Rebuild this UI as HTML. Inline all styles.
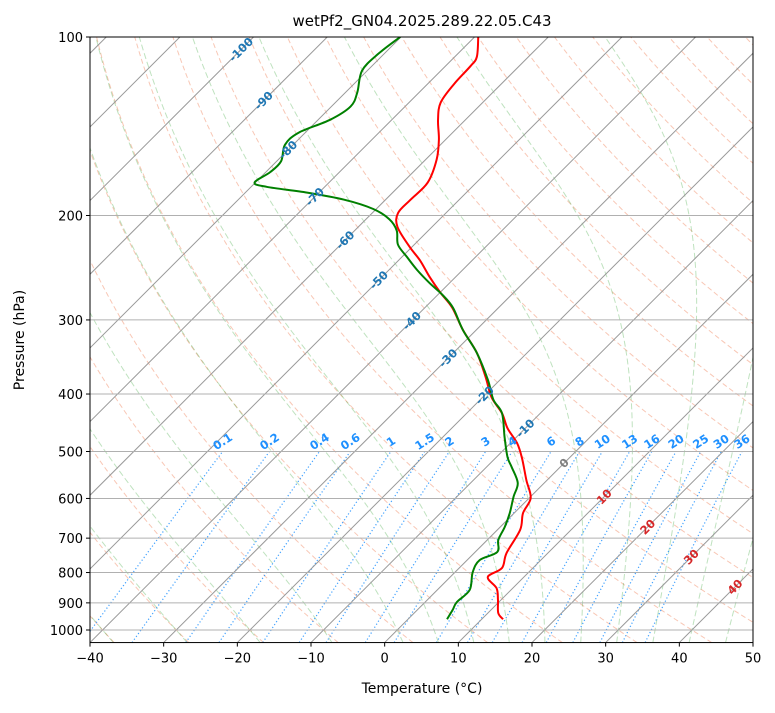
<!DOCTYPE html>
<html><head><meta charset="utf-8"><style>
html,body{margin:0;padding:0;background:#fff;}
svg text{font-family:"DejaVu Sans","Liberation Sans",sans-serif;}
</style></head><body>
<svg id="chart" width="775" height="708" xmlns="http://www.w3.org/2000/svg">
<defs><clipPath id="plotclip"><rect x="90" y="37" width="663" height="605.6"/></clipPath></defs>
<rect x="0" y="0" width="775" height="708" fill="#fff"/>
<text x="422" y="26" text-anchor="middle" font-size="15">wetPf2_GN04.2025.289.22.05.C43</text>
<g id="bg" clip-path="url(#plotclip)"></g>
<g id="fg" clip-path="url(#plotclip)"></g>
<g id="labels"></g>
<g id="axes"></g>
<text x="422" y="693" text-anchor="middle" font-size="14">Temperature (°C)</text>
<text x="0" y="0" text-anchor="middle" font-size="14" transform="translate(24,340) rotate(-90)">Pressure (hPa)</text>
</svg>
<script>
// ---- data ----
const tempPressure = [100,108,112,120,129,138,149,161,176,188,198,209,226,238,254,270,286,312,341,374,405,431,457,484,513,559,599,635,678,742,786,814,850,890,936,959];
const tempValues = [-69.5,-67.0,-66.6,-66.4,-65.7,-63.7,-60.9,-58.5,-56.6,-56.6,-56.5,-54.7,-50.3,-47.1,-43.5,-39.9,-36.3,-31.8,-26.8,-22.4,-18.8,-15.2,-12.4,-9.1,-6.4,-2.8,0.2,1.2,3.1,4.4,5.8,5.1,7.8,9.6,11.4,12.9];
const dewPressure = [100,107,114,124,131,138,145,152,162,169,176,179,183,188,195,203,212,224,235,247,260,272,286,312,341,379,409,431,473,511,531,565,596,635,670,705,739,762,799,856,897,925,959];
const dewValues = [-80.1,-80.8,-80.7,-78.4,-77.4,-78.4,-80.9,-81.1,-79.4,-79.4,-80.1,-77.8,-71.6,-65.7,-60.4,-56.8,-54.3,-52.2,-49.3,-46.2,-42.7,-39.4,-36.2,-31.8,-26.8,-21.6,-18.2,-15.2,-11.6,-8.5,-6.6,-3.6,-2.3,-0.6,0.6,1.5,3.0,1.7,2.4,4.4,4.3,4.8,5.3];
const xTicks = [-40,-30,-20,-10,0,10,20,30,40,50];
const yTicks = [100,200,300,400,500,600,700,800,900,1000];
const isotherms = [-150,-140,-130,-120,-110,-100,-90,-80,-70,-60,-50,-40,-30,-20,-10,0,10,20,30,40,50];
const dryThetas = [-50,-40,-30,-20,-10,0,10,20,30,40,50,60,70,80,90,100,110,120,130,140,150,160,170,180,190,200];
const moistT0 = [-50,-40,-30,-20,-10,0,5,10,15,20,25,30,35,40,45];
const mixRatios = [0.1,0.2,0.4,0.6,1,1.5,2,3,4,6,8,10,13,16,20,25,30,36];
const mixLabels = ["0.1","0.2","0.4","0.6","1","1.5","2","3","4","6","8","10","13","16","20","25","30","36"];
const isoLabelT = [-100,-90,-80,-70,-60,-50,-40,-30,-20,-10,0,10,20,30,40];
const isoLabelP = [105,128,155,186,220,257,301,348,402,457,523,596,670,753,846];

// ---- axes functions ----
const NS="http://www.w3.org/2000/svg";
const X0=90, X1=753, Y1000=630, DEC=593;
const PXT=(X1-X0)/90;
function yp(p){return Y1000-DEC*Math.log10(1000/p);}
const YB=yp(1050);
function xp(T,p){return X0+(T+40)*PXT+(YB-yp(p));}
function mk(tag,attrs,parent){const e=document.createElementNS(NS,tag);for(const k in attrs)e.setAttribute(k,attrs[k]);parent.appendChild(e);return e;}
const bg=document.getElementById('bg'), fg=document.getElementById('fg'), lab=document.getElementById('labels'), ax=document.getElementById('axes');
function pathFrom(ps,ts){let d='';for(let i=0;i<ps.length;i++){d+=(i?'L':'M')+xp(ts[i],ps[i]).toFixed(2)+','+yp(ps[i]).toFixed(2);}return d;}
function smoothPath(ps,ts){
  const pts=ps.map((p,i)=>[xp(ts[i],p),yp(p)]);
  let d='M'+pts[0][0].toFixed(2)+','+pts[0][1].toFixed(2);
  for(let i=0;i<pts.length-1;i++){
    const p0=pts[Math.max(0,i-1)],p1=pts[i],p2=pts[i+1],p3=pts[Math.min(pts.length-1,i+2)];
    const c1=[p1[0]+(p2[0]-p0[0])/6,p1[1]+(p2[1]-p0[1])/6];
    const c2=[p2[0]-(p3[0]-p1[0])/6,p2[1]-(p3[1]-p1[1])/6];
    d+='C'+c1[0].toFixed(2)+','+c1[1].toFixed(2)+' '+c2[0].toFixed(2)+','+c2[1].toFixed(2)+' '+p2[0].toFixed(2)+','+p2[1].toFixed(2);
  }
  return d;
}

const plevs=[];for(let p=1050;p>=100;p-=5)plevs.push(p);
dryThetas.forEach(th=>{
  const ts=plevs.map(p=>(th+273.15)*Math.pow(p/1000,0.2857)-273.15);
  const e=mk('path',{d:pathFrom(plevs,ts),fill:'none',stroke:'#f4a284','stroke-opacity':'0.6','stroke-width':'1','stroke-dasharray':'5,3'},bg);
  
  
});
function es(tc){return 6.112*Math.exp(17.67*tc/(tc+243.5));}
function moistRate(p,T){const Rd=287.04,Cp=1005.7,Lv=2.501e6,eps=0.622;const tc=T-273.15;const e=es(tc);const rs=eps*e/(p-e);
  return (1/p)*(Rd*T+Lv*rs)/(Cp+Lv*Lv*rs*eps/(Rd*T*T));}
function moist(t0){let T=t0+273.15;let p;const res={};res[1000]=T;
  for(p=1000;p>100;p-=1){const k1=moistRate(p,T);const k2=moistRate(p-0.5,T-0.5*k1);T-=k2;res[p-1]=T;}
  T=t0+273.15;for(p=1000;p<1050;p+=1){const k1=moistRate(p,T);const k2=moistRate(p+0.5,T+0.5*k1);T+=k2;res[p+1]=T;}
  return plevs.map(pp=>res[pp]-273.15);}
moistT0.forEach(t0=>{
  const e=mk('path',{d:pathFrom(plevs,moist(t0)),fill:'none',stroke:'#2ca02c','stroke-opacity':'0.3','stroke-width':'1','stroke-dasharray':'6,3'},bg);
  
  
});
const mlevs=[];for(let p=1050;p>=500;p-=10)mlevs.push(p);
function tdFor(w,p){const e=(w/1000)*p/(0.622+w/1000);const l=Math.log(e/6.112);return 243.5*l/(17.67-l);}
mixRatios.forEach((w,i)=>{
  const ts=mlevs.map(p=>tdFor(w,p));
  const e=mk('path',{d:pathFrom(mlevs,ts),fill:'none',stroke:'#1e90ff','stroke-opacity':'0.85','stroke-width':'1.2','stroke-dasharray':'1.2,2.3'},bg);
  
  
  const x=xp(tdFor(w,500),500), y=yp(500)-10;
  const t=mk('text',{x:x,y:y+4,'text-anchor':'middle','font-size':'11.5','font-weight':'bold',fill:'#1e90ff',transform:`rotate(-33 ${x} ${y})`},lab);
  t.textContent=mixLabels[i];
  
  
});
isotherms.forEach(T=>{
  const e=mk('line',{x1:xp(T,1050),y1:yp(1050),x2:xp(T,100),y2:yp(100),stroke:'#999','stroke-width':'1'},bg);
  
  
});
yTicks.forEach(p=>{
  const e=mk('line',{x1:X0,x2:X1,y1:yp(p),y2:yp(p),stroke:'#b0b0b0','stroke-width':'1'},bg);
  
  
});
isoLabelT.forEach((T,i)=>{
  const p=isoLabelP[i];const x=xp(T,p),y=yp(p);
  const col=T<0?'#1f77b4':(T===0?'#7f7f7f':'#d62728');
  const t=mk('text',{x:x,y:y+4,'text-anchor':'middle','font-size':'11.5','font-weight':'bold',fill:col,transform:`rotate(-45 ${x} ${y})`},lab);
  t.textContent=String(T);
  
  
});
const tl=mk('path',{d:smoothPath(tempPressure,tempValues),fill:'none',stroke:'#ff0000','stroke-width':'2','stroke-linejoin':'round'},fg);


const dl=mk('path',{d:smoothPath(dewPressure,dewValues),fill:'none',stroke:'#008000','stroke-width':'2','stroke-linejoin':'round'},fg);


const fr=mk('rect',{x:X0,y:37,width:X1-X0,height:YB-37,fill:'none',stroke:'#000','stroke-width':'1'},ax);


xTicks.forEach(T=>{
  const x=X0+(T+40)*PXT;
  const l=mk('line',{x1:x,x2:x,y1:YB,y2:YB+4,stroke:'#000'},ax);
  
  
  const t=mk('text',{x:x,y:YB+20,'text-anchor':'middle','font-size':'13'},ax);
  t.textContent=(T<0?'\u2212'+(-T):String(T));
  
  
});
yTicks.forEach(p=>{
  const y=yp(p);
  const l=mk('line',{x1:X0-4,x2:X0,y1:y,y2:y,stroke:'#000'},ax);
  
  
  const t=mk('text',{x:X0-7,y:y+5,'text-anchor':'end','font-size':'13'},ax);
  t.textContent=String(p);
  
  
});
</script>
</body></html>
